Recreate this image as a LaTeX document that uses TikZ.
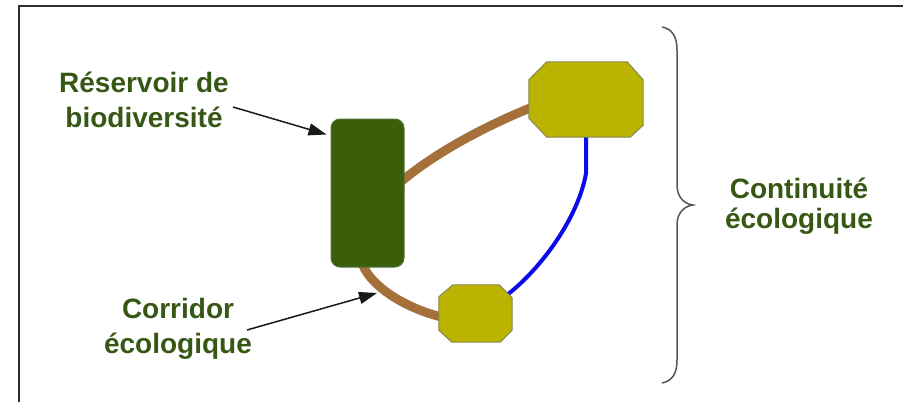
\documentclass[tikz,border=0pt]{standalone}
\usepackage{fontspec}
\setmainfont{Liberation Sans}
\usetikzlibrary{arrows.meta,calc,backgrounds}
\definecolor{labelgreen}{RGB}{55,88,20}
\definecolor{resgreen}{RGB}{58,94,10}
\definecolor{resborder}{RGB}{85,112,55}
\definecolor{octfill}{RGB}{186,180,0}
\definecolor{octborder}{RGB}{135,135,80}
\definecolor{corridorbrown}{RGB}{166,112,58}
\definecolor{blueline}{RGB}{10,10,235}
\definecolor{framegray}{RGB}{45,45,45}
\definecolor{bracegray}{RGB}{85,85,85}
\tikzset{
  lbl/.style={text=labelgreen, font=\bfseries\fontsize{28}{35}\selectfont, align=center, inner sep=0pt, anchor=base},
  resbox/.style={fill=resgreen, draw=resborder, line width=1pt, rounded corners=9pt, minimum width=73pt, minimum height=148pt, inner sep=0pt},
  octholder/.style={inner sep=0pt, draw=none},
  octshape/.style={fill=octfill, draw=octborder, line width=1pt},
  corridor/.style={draw=corridorbrown, line width=9pt},
  bluelink/.style={draw=blueline, line width=4pt},
  pointer/.style={draw=black!90, line width=1.5pt, -{Triangle[length=18pt,width=12pt]}},
}
\begin{document}
\begin{tikzpicture}[x=1pt,y=-1pt]
\useasboundingbox (0,0) rectangle (908,402);
% frame
\draw[framegray, line width=2pt] (19,402) -- (19,6) -- (903,6);

% nodes
\node[resbox] (res) at (367.5,193) {};
\node[octholder, minimum width=114pt, minimum height=75pt] (tr) at (586,99.5) {};
\node[octholder, minimum width=73pt, minimum height=57pt] (br) at (475.5,313.5) {};

% octagons
\draw[octshape] ($(tr.north west)+(18,0)$) -- ($(tr.north east)+(-16,0)$) -- ($(tr.north east)+(0,18)$)
  -- ($(tr.south east)+(0,-12)$) -- ($(tr.south east)+(-13,0)$) -- ($(tr.south west)+(18,0)$)
  -- ($(tr.south west)+(0,-19)$) -- ($(tr.north west)+(0,18)$) -- cycle;
\draw[octshape] ($(br.north west)+(14,0)$) -- ($(br.north east)+(-13,0)$) -- ($(br.north east)+(0,13)$)
  -- ($(br.south east)+(0,-12)$) -- ($(br.south east)+(-12,0)$) -- ($(br.south west)+(13,0)$)
  -- ($(br.south west)+(0,-12)$) -- ($(br.north west)+(0,12)$) -- cycle;

% connectors behind shapes
\begin{pgfonlayer}{background}
\draw[corridor] ($(res.east)+(-5,-10)$) .. controls +(36,-31) and +(-45,18) .. ($(tr.west)+(5,7)$);
\draw[corridor] ($(res.south)+(-5,-3)$) .. controls +(10,24) and +(-35,-8) .. ($(br.west)+(5,4)$);
\draw[bluelink] ($(tr.south)+(0,-3)$) -- ++(0,39) .. controls +(-7,42) and +(36,-28) .. ($(br.north east)+(-5,10)$);
\end{pgfonlayer}

% labels
\node[lbl] (l1) at (144,127) {Réservoir de\\biodiversité};
\node[lbl] (l2) at (178,353) {Corridor\\écologique};
\node[lbl, font=\bfseries\fontsize{28}{30}\selectfont] (l3) at (799,228) {Continuité\\écologique};

% pointers
\coordinate (a1) at (233,107);
\coordinate (a2) at (247,330);
\coordinate (c2) at (377,293);
\draw[pointer] (a1) -- ($(res.north west)+(-4,16)$);
\draw[pointer] (a2) -- (c2);

% brace
\draw[bracegray, line width=1.5pt] (662,27) .. controls (672,29) and (677,36) .. (677,50) -- (677,185)
  .. controls (677,198) and (685,204) .. (693,205) .. controls (685,206) and (677,212) .. (677,225)
  -- (677,360) .. controls (677,374) and (672,381) .. (662,383);
\end{tikzpicture}
\end{document}
